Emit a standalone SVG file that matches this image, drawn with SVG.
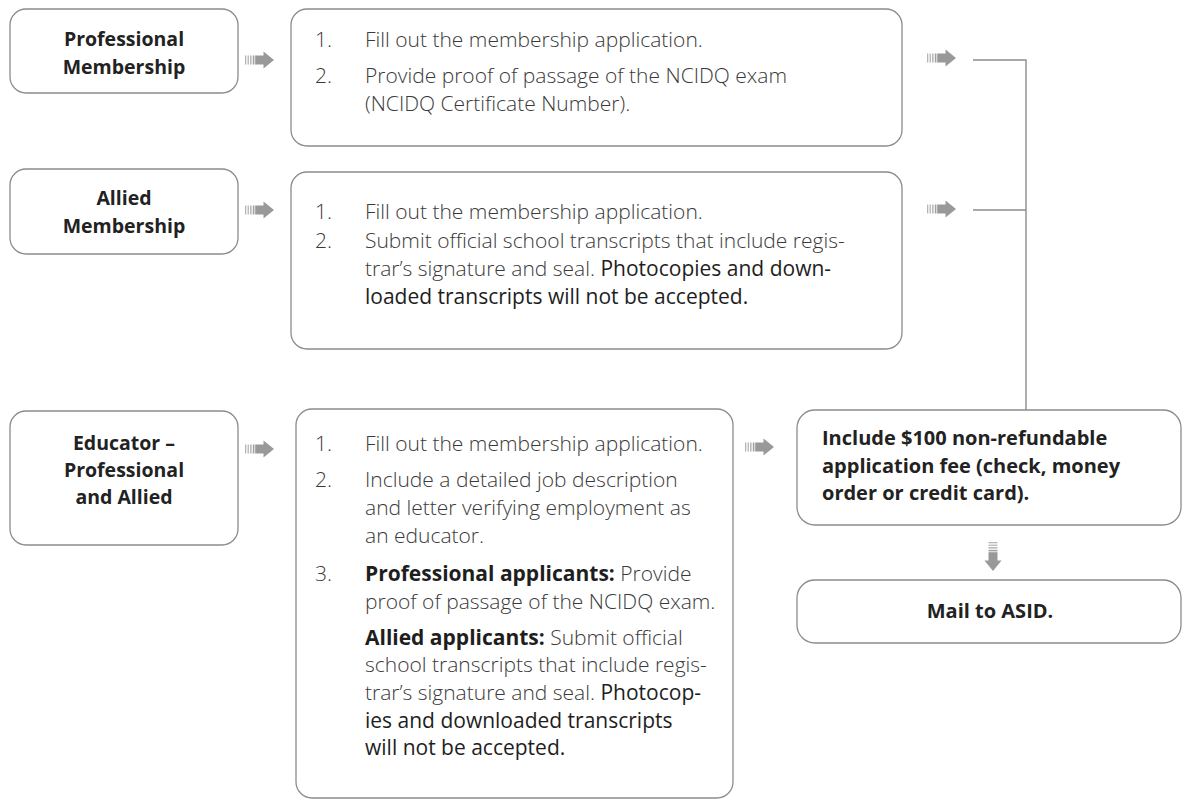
<svg xmlns="http://www.w3.org/2000/svg" xmlns:xlink="http://www.w3.org/1999/xlink" width="1182" height="801" viewBox="0 0 1182 801">
<style>
.box{fill:#fff;stroke:#8c8c8c;stroke-width:1.3}
.lbl{font-family:"Open Sans","Noto Sans","Liberation Sans",sans-serif;font-weight:700;font-size:19.5px;fill:#222;text-anchor:middle}
.fee{font-family:"Open Sans","Noto Sans","Liberation Sans",sans-serif;font-weight:700;font-size:20px;fill:#222}
.t{font-family:"Open Sans","Noto Sans","Liberation Sans",sans-serif;font-weight:300;font-size:21px;fill:#3a3a3a}
.r{font-weight:400;fill:#1e1e1e}
.b{font-weight:700;fill:#1e1e1e}
.ln{fill:none;stroke:#8c8c8c;stroke-width:1.4}
</style>
<defs>
<g id="arr">
<rect x="0" y="-4.5" width="1.3" height="9" fill="#b5b5b5"/>
<rect x="2.6" y="-4.5" width="1.3" height="9" fill="#b5b5b5"/>
<rect x="5.2" y="-4.5" width="1.3" height="9" fill="#aaa"/>
<rect x="7.8" y="-4.5" width="1.6" height="9" fill="#a0a0a0"/>
<rect x="10.2" y="-4.5" width="9" height="9" fill="#999"/>
<polygon points="18.5,-8.5 29,0 18.5,8.5" fill="#999"/>
</g>
</defs>

<g id="connectors">
<use xlink:href="#arr" href="#arr" x="245" y="60"/>
<use xlink:href="#arr" href="#arr" x="245" y="210"/>
<use xlink:href="#arr" href="#arr" x="245" y="449"/>
<use xlink:href="#arr" href="#arr" x="927" y="58"/>
<use xlink:href="#arr" href="#arr" x="927" y="209"/>
<use xlink:href="#arr" href="#arr" x="745" y="447"/>
<use xlink:href="#arr" href="#arr" transform="translate(993,542) rotate(90)"/>
<path class="ln" d="M973 60 H1026 V410"/>
<path class="ln" d="M973 210 H1026"/>
</g>

<g id="professional">
<rect class="box" x="10" y="9" width="228" height="84" rx="16"/>
<text class="lbl" x="124" y="46">Professional</text>
<text class="lbl" x="124" y="74">Membership</text>
</g>

<g id="allied">
<rect class="box" x="10" y="169" width="228" height="85" rx="16"/>
<text class="lbl" x="124" y="205">Allied</text>
<text class="lbl" x="124" y="233">Membership</text>
</g>

<g id="educator">
<rect class="box" x="10" y="411" width="228" height="134" rx="16"/>
<text class="lbl" x="124" y="450">Educator –</text>
<text class="lbl" x="124" y="477">Professional</text>
<text class="lbl" x="124" y="504">and Allied</text>
</g>

<g id="professional-steps">
<rect class="box" x="291" y="9" width="611" height="137" rx="16"/>
<text class="t" x="315" y="47">1.</text>
<text class="t" x="365" y="47">Fill out the membership application.</text>
<text class="t" x="315" y="83">2.</text>
<text class="t" x="365" y="83">Provide proof of passage of the NCIDQ exam</text>
<text class="t" x="365" y="111">(NCIDQ Certificate Number).</text>
</g>

<g id="allied-steps">
<rect class="box" x="291" y="172" width="611" height="177" rx="16"/>
<text class="t" x="315" y="219">1.</text>
<text class="t" x="365" y="219">Fill out the membership application.</text>
<text class="t" x="315" y="248">2.</text>
<text class="t" x="365" y="248">Submit official school transcripts that include regis-</text>
<text class="t" x="365" y="276">trar’s signature and seal. <tspan class="r">Photocopies and down-</tspan></text>
<text class="t r" x="365" y="304">loaded transcripts will not be accepted.</text>
</g>

<g id="educator-steps">
<rect class="box" x="296" y="409" width="437" height="389" rx="16"/>
<text class="t" x="315" y="451">1.</text>
<text class="t" x="365" y="451">Fill out the membership application.</text>
<text class="t" x="315" y="487">2.</text>
<text class="t" x="365" y="487">Include a detailed job description</text>
<text class="t" x="365" y="515">and letter verifying employment as</text>
<text class="t" x="365" y="543">an educator.</text>
<text class="t" x="315" y="581">3.</text>
<text class="t" x="365" y="581"><tspan class="b">Professional applicants:</tspan> Provide</text>
<text class="t" x="365" y="609">proof of passage of the NCIDQ exam.</text>
<text class="t" x="365" y="645"><tspan class="b">Allied applicants:</tspan> Submit official</text>
<text class="t" x="365" y="672">school transcripts that include regis-</text>
<text class="t" x="365" y="700">trar’s signature and seal. <tspan class="r">Photocop-</tspan></text>
<text class="t r" x="365" y="728">ies and downloaded transcripts</text>
<text class="t r" x="365" y="755">will not be accepted.</text>
</g>

<g id="fee">
<rect class="box" x="797" y="410" width="384" height="115" rx="18"/>
<text class="fee" x="822" y="445">Include $100 non-refundable</text>
<text class="fee" x="822" y="473">application fee (check, money</text>
<text class="fee" x="822" y="500">order or credit card).</text>
</g>

<g id="mail">
<rect class="box" x="797" y="580" width="384" height="63" rx="18"/>
<text class="fee" x="990" y="618" text-anchor="middle">Mail to ASID.</text>
</g>
</svg>
